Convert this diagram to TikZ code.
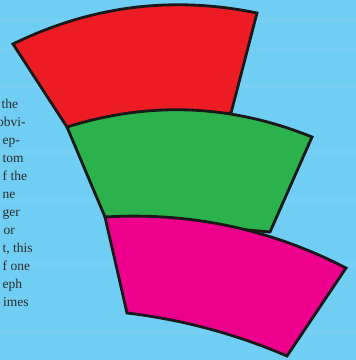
\documentclass[tikz,border=0pt]{standalone}
\usepackage{fontspec}
\setmainfont{Liberation Serif}
\definecolor{sky}{RGB}{112,205,244}
\definecolor{capred}{RGB}{237,28,36}
\definecolor{capgreen}{RGB}{43,178,76}
\definecolor{capmag}{RGB}{236,0,140}
\definecolor{txt}{RGB}{45,45,45}
\tikzset{
  band/.style={draw=black!90, line width=2.8pt, line join=miter},
  bodytext/.style={anchor=base west, inner sep=0pt, text=txt, font=\fontsize{13.5}{16}\selectfont}
}
\begin{document}
\begin{tikzpicture}[x=1pt,y=-1pt]
\useasboundingbox (0,0) rectangle (356,360);
\clip (0,0) rectangle (356,360);
\fill[sky] (0,0) rectangle (356,360);
\foreach \yy/\op in {18/0.05,47/0.04,83/0.05,150/0.04,198/0.04,262/0.04,330/0.05}
  \fill[white,opacity=\op] (0,\yy) rectangle (356,\yy+5);
% text lines
\node[bodytext] (l1) at (1.5,108) {the};
\node[bodytext] (l2) at (-3,126) {obvi-};
\node[bodytext] (l3) at (2.5,144) {ep-};
\node[bodytext] (l4) at (2.5,162) {tom};
\node[bodytext] (l5) at (2.5,180) {f the};
\node[bodytext] (l6) at (2.5,198) {ne};
\node[bodytext] (l7) at (2.5,216) {ger};
\node[bodytext] (l8) at (3.5,234) {or};
\node[bodytext] (l9) at (2.5,252) {t, this};
\node[bodytext] (l10) at (2.5,270) {f one};
\node[bodytext] (l11) at (2.5,288) {eph};
\node[bodytext] (l12) at (3,306) {imes};
% red band
\filldraw[band, fill=capred] (13,44) .. controls (90.8,5.9) and (172.2,-4.5) .. (257,13)
  -- (231,113) -- (67,127) -- cycle;
% green band
\filldraw[band, fill=capgreen] (67,127) .. controls (149.9,101) and (231.5,104.4) .. (312,137)
  -- (270,232) -- (105,217) -- cycle;
% magenta band
\filldraw[band, fill=capmag] (105,217) .. controls (190,211.9) and (270.4,228.9) .. (346,268)
  -- (287,356) .. controls (235.8,334) and (182.4,319.6) .. (127,313) -- cycle;
\end{tikzpicture}
\end{document}
